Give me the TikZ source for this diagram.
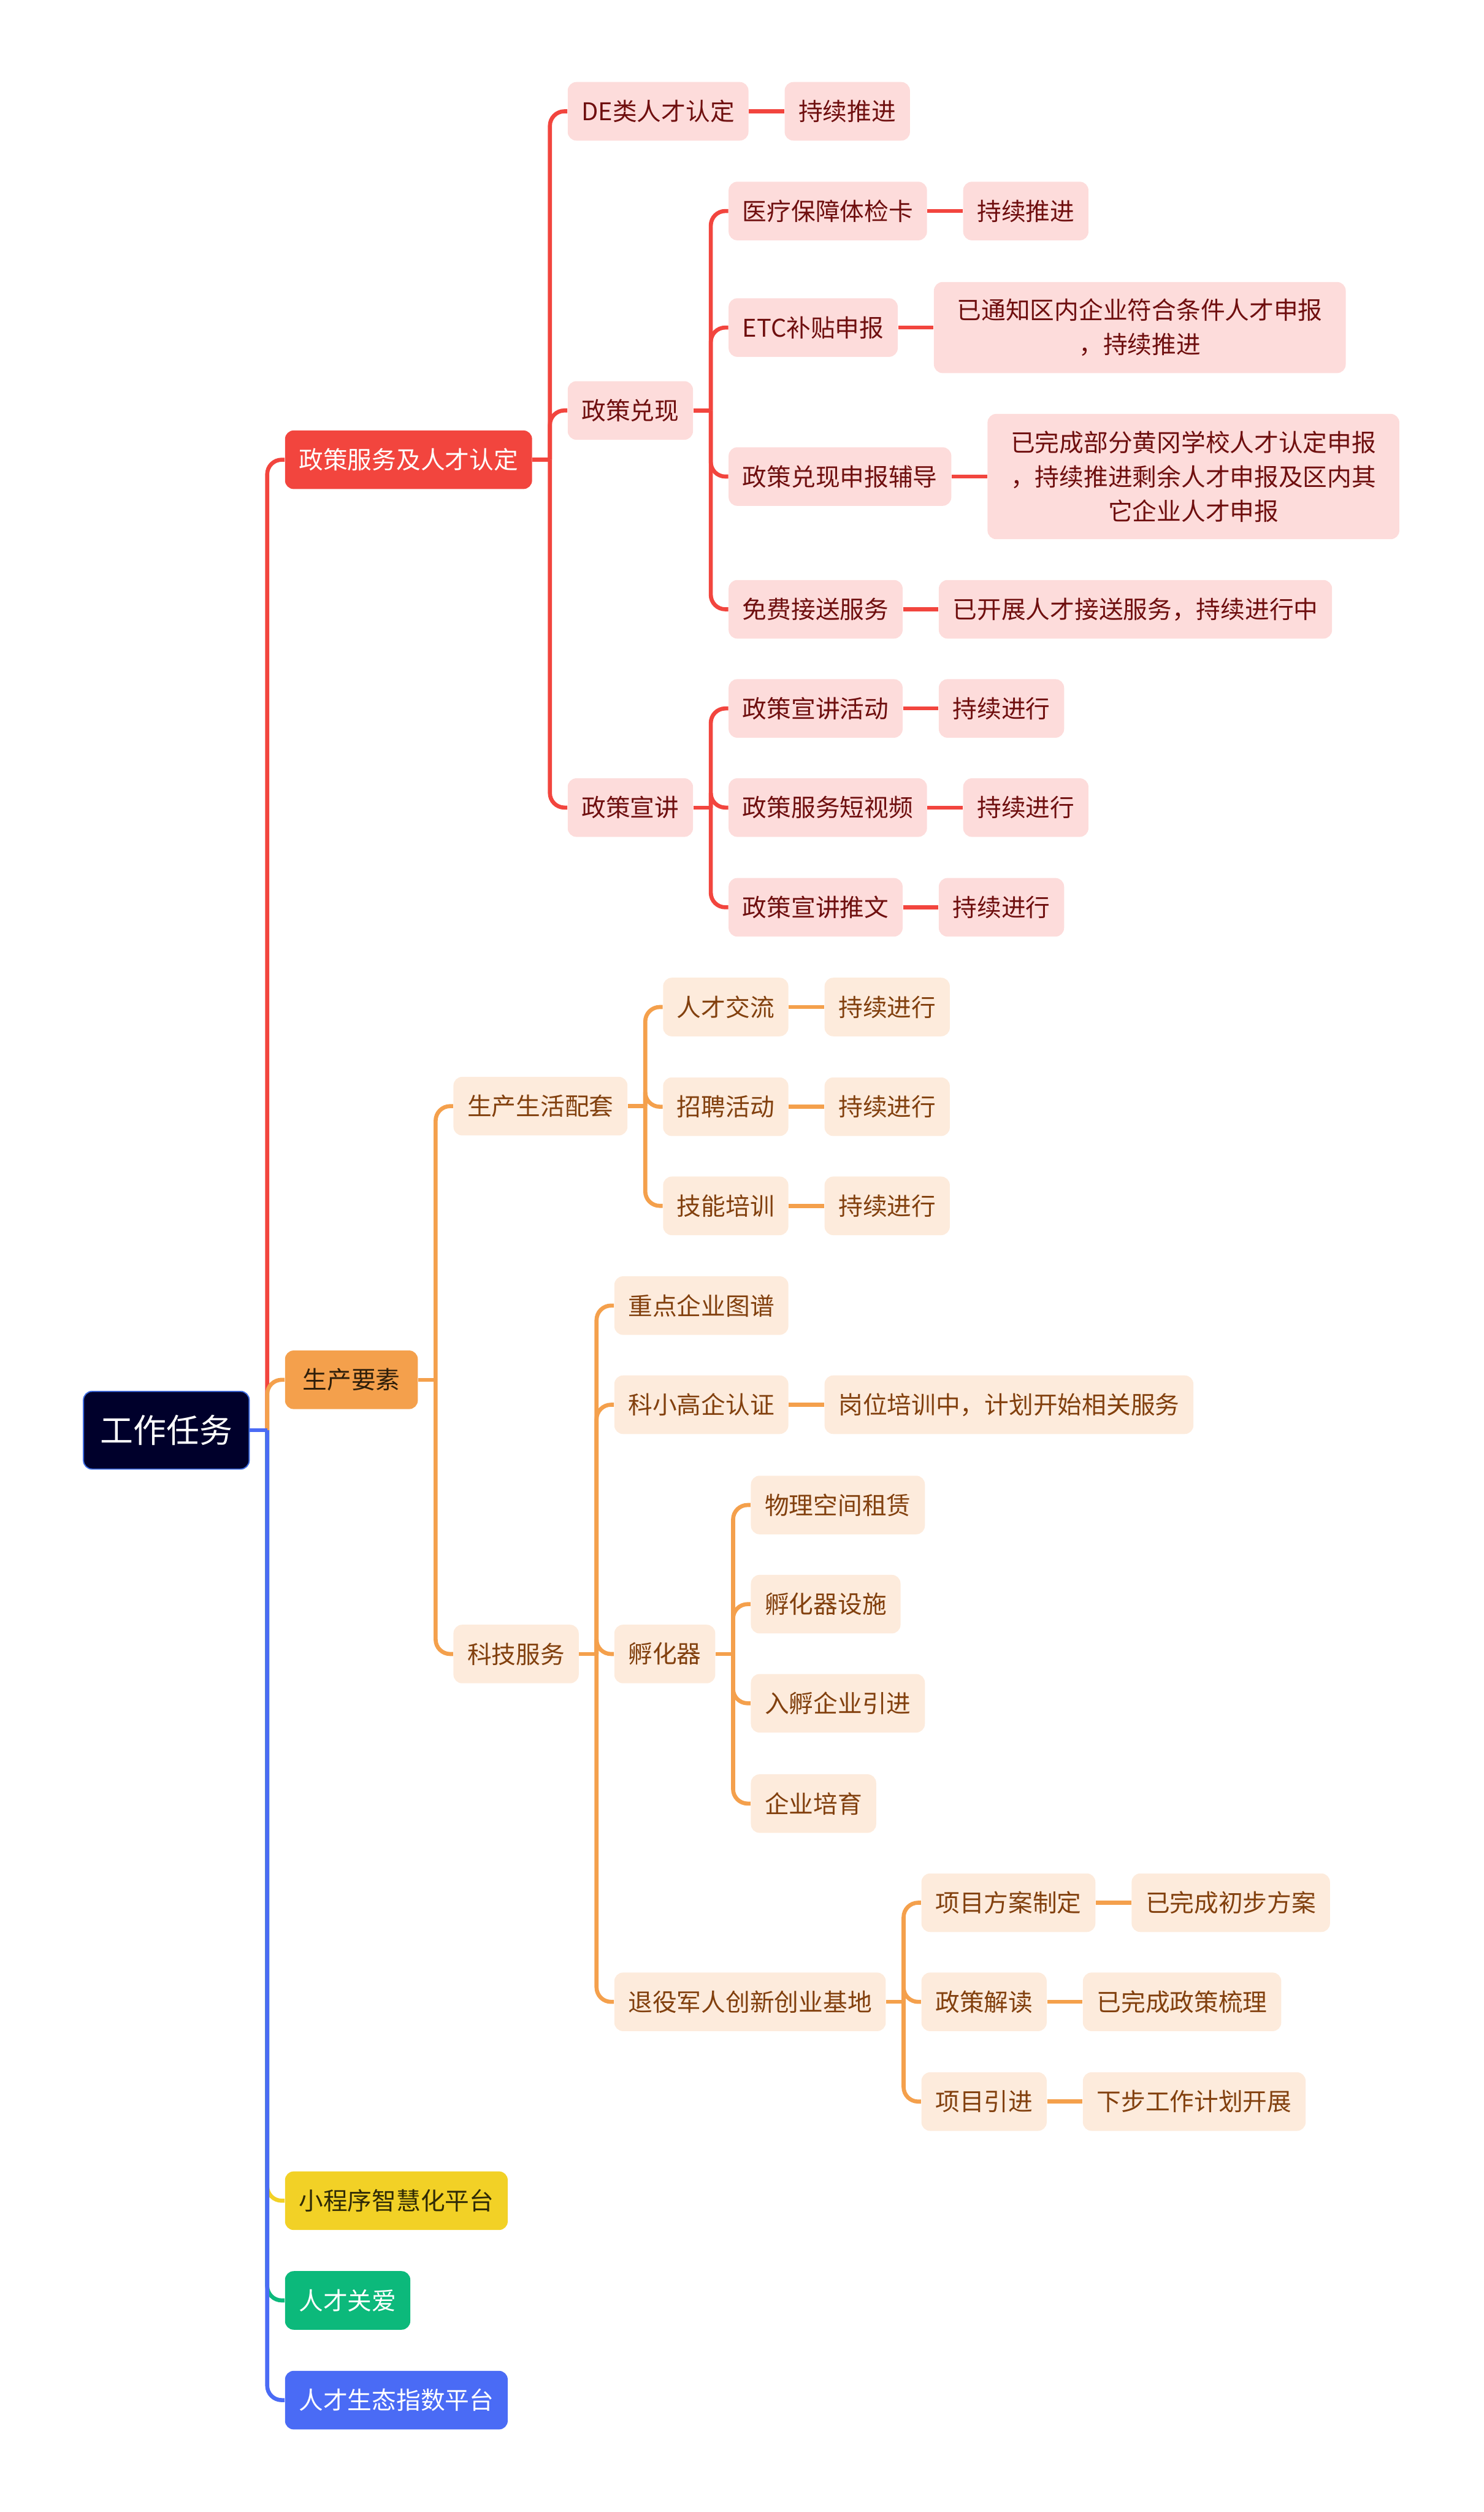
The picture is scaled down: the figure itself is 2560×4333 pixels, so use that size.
\documentclass[tikz,border=0pt]{standalone}
\usepackage{fontspec}
\setmainfont{Noto Sans CJK SC}
\usetikzlibrary{positioning}
\usetikzlibrary{calc}
\definecolor{redline}{HTML}{F2453E}
\definecolor{redfill}{HTML}{FDDCDB}
\definecolor{redtext}{HTML}{6F0F0F}
\definecolor{orgline}{HTML}{F4A04C}
\definecolor{orgfill}{HTML}{FDEBDC}
\definecolor{orgtext}{HTML}{82400E}
\definecolor{prodtext}{HTML}{2E1E0A}
\definecolor{yelfill}{HTML}{F2D126}
\definecolor{yeltext}{HTML}{2F2A06}
\definecolor{grnfill}{HTML}{0CB97B}
\definecolor{bluefill}{HTML}{4A6BF5}
\definecolor{rootfill}{HTML}{00002B}
\definecolor{rootline}{HTML}{3D6BE0}
\tikzstyle{topic} = [rounded corners=0.15cm, inner xsep=0.24cm, inner ysep=0.1cm, minimum height=1.01cm, anchor=west, font=\fontsize{11.95}{16.8}\selectfont]
\tikzstyle{redbox} = [topic, fill=redfill, text=redtext]
\tikzstyle{orgbox} = [topic, fill=orgfill, text=orgtext]
\tikzstyle{redlink} = [draw=redline, line width=0.07cm]
\tikzstyle{orglink} = [draw=orgline, line width=0.07cm]

\begin{document}
\begin{tikzpicture}[x=0.01cm, y=-0.01cm]

  \useasboundingbox (0,0) rectangle (2560,4333);

  % ============================== Root ========================================

  \node[topic, fill=rootfill, draw=rootline, line width=0.02cm, text=white, inner xsep=0.29cm, minimum height=1.34cm, font=\fontsize{16.2}{20}\selectfont] (root) at (143,2467) {工作任务};

  \node[topic, fill=redline, text=white, xshift=0.6cm] (pol) at (root.east |- 0,793) {政策服务及人才认定};
  \node[topic, fill=orgline, text=prodtext, xshift=0.6cm, minimum width=2.29cm] (prod) at (root.east |- 0,2380) {生产要素};
  \node[topic, fill=yelfill, text=yeltext, xshift=0.6cm] (mini) at (root.east |- 0,3796) {小程序智慧化平台};
  \node[topic, fill=grnfill, text=white, xshift=0.6cm] (care) at (root.east |- 0,3968) {人才关爱};
  \node[topic, fill=bluefill, text=white, xshift=0.6cm] (eco) at (root.east |- 0,4140) {人才生态指数平台};

  % ============================ Policy ========================================

  \node[redbox, xshift=0.6cm] (de) at (pol.east |- 0,192) {DE类人才认定};
  \node[redbox, right=0.61cm of de] (de1) {持续推进};
  \node[redbox, xshift=0.6cm] (dx) at (pol.east |- 0,708) {政策兑现};
  \node[redbox, xshift=0.6cm] (dxj) at (pol.east |- 0,1393) {政策宣讲};

  \node[redbox, xshift=0.6cm] (yl) at (dx.east |- 0,364) {医疗保障体检卡};
  \node[redbox, right=0.61cm of yl] (yl1) {持续推进};
  \node[redbox, xshift=0.6cm] (etc) at (dx.east |- 0,565) {ETC补贴申报};
  \node[redbox, right=0.61cm of etc, text width=6.62cm, align=center, minimum height=1.57cm] (etc1) {已通知区内企业符合条件人才申报\\，持续推进};
  \node[redbox, xshift=0.6cm] (fd) at (dx.east |- 0,822) {政策兑现申报辅导};
  \node[redbox, right=0.61cm of fd, text width=6.62cm, align=center, minimum height=2.16cm] (fd1) {已完成部分黄冈学校人才认定申报\\，持续推进剩余人才申报及区内其\\它企业人才申报};
  \node[redbox, xshift=0.6cm] (js) at (dx.east |- 0,1051) {免费接送服务};
  \node[redbox, right=0.61cm of js] (js1) {已开展人才接送服务，持续进行中};

  \node[redbox, xshift=0.6cm] (xj1) at (dxj.east |- 0,1222) {政策宣讲活动};
  \node[redbox, right=0.61cm of xj1] (xj1s) {持续进行};
  \node[redbox, xshift=0.6cm] (xj2) at (dxj.east |- 0,1393) {政策服务短视频};
  \node[redbox, right=0.61cm of xj2] (xj2s) {持续进行};
  \node[redbox, xshift=0.6cm] (xj3) at (dxj.east |- 0,1565) {政策宣讲推文};
  \node[redbox, right=0.61cm of xj3] (xj3s) {持续进行};

  % ============================ Production ====================================

  \node[orgbox, xshift=0.6cm] (shp) at (prod.east |- 0,1908) {生产生活配套};
  \node[orgbox, xshift=0.6cm] (kj) at (prod.east |- 0,2853) {科技服务};

  \node[orgbox, xshift=0.6cm] (rc) at (shp.east |- 0,1737) {人才交流};
  \node[orgbox, right=0.61cm of rc] (rc1) {持续进行};
  \node[orgbox, xshift=0.6cm] (zp) at (shp.east |- 0,1909) {招聘活动};
  \node[orgbox, right=0.61cm of zp] (zp1) {持续进行};
  \node[orgbox, xshift=0.6cm] (jn) at (shp.east |- 0,2080) {技能培训};
  \node[orgbox, right=0.61cm of jn] (jn1) {持续进行};

  \node[orgbox, xshift=0.6cm] (zd) at (kj.east |- 0,2252) {重点企业图谱};
  \node[orgbox, xshift=0.6cm] (kx) at (kj.east |- 0,2423) {科小高企认证};
  \node[orgbox, right=0.61cm of kx] (kx1) {岗位培训中，计划开始相关服务};
  \node[orgbox, xshift=0.6cm] (fh) at (kj.east |- 0,2853) {孵化器};
  \node[orgbox, xshift=0.6cm] (ty) at (kj.east |- 0,3453) {退役军人创新创业基地};

  \node[orgbox, xshift=0.6cm] (wl) at (fh.east |- 0,2596) {物理空间租赁};
  \node[orgbox, xshift=0.6cm] (fs) at (fh.east |- 0,2767) {孵化器设施};
  \node[orgbox, xshift=0.6cm] (rf) at (fh.east |- 0,2938) {入孵企业引进};
  \node[orgbox, xshift=0.6cm] (py) at (fh.east |- 0,3111) {企业培育};

  \node[orgbox, xshift=0.6cm] (xm) at (ty.east |- 0,3282) {项目方案制定};
  \node[orgbox, right=0.61cm of xm] (xm1) {已完成初步方案};
  \node[orgbox, xshift=0.6cm] (zc) at (ty.east |- 0,3453) {政策解读};
  \node[orgbox, right=0.61cm of zc] (zc1) {已完成政策梳理};
  \node[orgbox, xshift=0.6cm] (yj) at (ty.east |- 0,3625) {项目引进};
  \node[orgbox, right=0.61cm of yj] (yj1) {下步工作计划开展};

  % ============================= Connect ======================================

  \foreach \c/\col in {pol/redline, prod/orgline, mini/yelfill, care/grnfill, eco/bluefill}{
    \path[draw=\col, line width=0.07cm] (root.east) -- ++(0.3cm,0);
    \path[draw=\col, line width=0.07cm, rounded corners=0.25cm]
      ([xshift=0.3cm]root.east) |- (\c.west);
  }

  \foreach \p/\c in {pol/de, pol/dx, pol/dxj, dx/yl, dx/etc, dx/fd, dx/js,
                     dxj/xj1, dxj/xj2, dxj/xj3}{
    \path[redlink] (\p.east) -- ++(0.3cm,0);
    \path[redlink, rounded corners=0.25cm] ([xshift=0.3cm]\p.east) |- (\c.west);
  }
  \foreach \a/\b in {de/de1, yl/yl1, etc/etc1, fd/fd1, js/js1,
                     xj1/xj1s, xj2/xj2s, xj3/xj3s}{
    \path[redlink] (\a.east) -- (\b.west);
  }

  \foreach \p/\c in {prod/shp, prod/kj, shp/rc, shp/zp, shp/jn, kj/zd, kj/kx,
                     kj/fh, kj/ty, fh/wl, fh/fs, fh/rf, fh/py, ty/xm, ty/zc, ty/yj}{
    \path[orglink] (\p.east) -- ++(0.3cm,0);
    \path[orglink, rounded corners=0.25cm] ([xshift=0.3cm]\p.east) |- (\c.west);
  }
  \foreach \a/\b in {rc/rc1, zp/zp1, jn/jn1, kx/kx1, xm/xm1, zc/zc1, yj/yj1}{
    \path[orglink] (\a.east) -- (\b.west);
  }

\end{tikzpicture}
\end{document}
